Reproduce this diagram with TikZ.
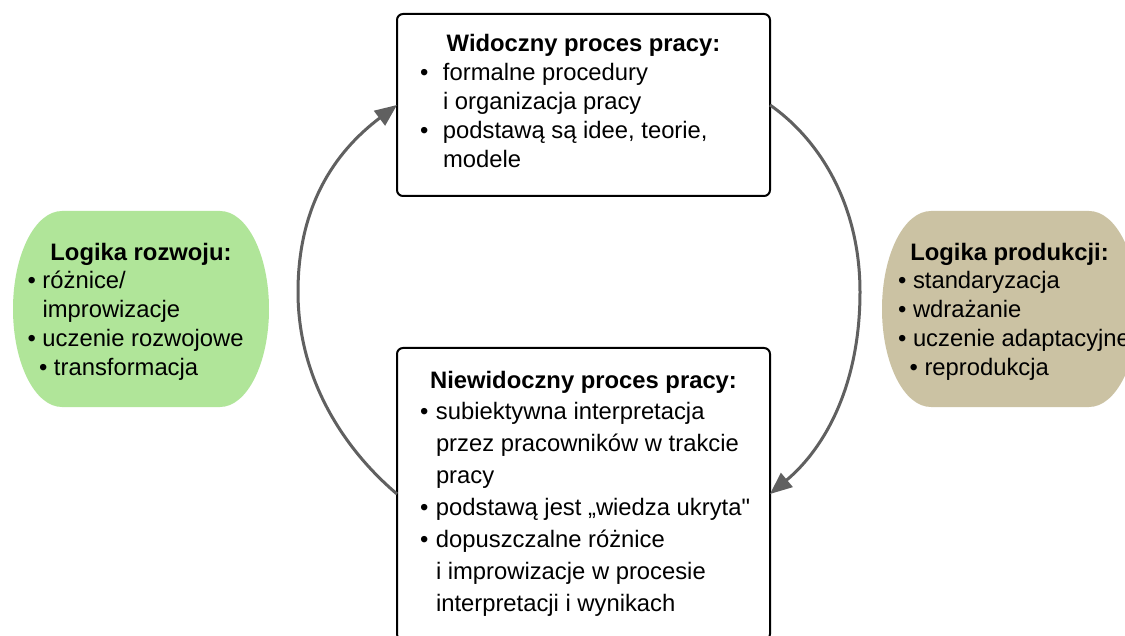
\documentclass[tikz,border=0pt]{standalone}
\usepackage{fontspec}
\setmainfont{Liberation Sans}
% same face without the TeX quote mapping, for a straight double quote
\newfontfamily\plainquote{Liberation Sans}
\usetikzlibrary{arrows.meta}

\definecolor{devgreen}{RGB}{176,229,153}
\definecolor{prodtan}{RGB}{203,194,163}
\definecolor{loopgray}{RGB}{96,96,96}

% bullet in a box of fixed width, continuation indent of the same width
\newcommand\bul[1]{\makebox[#1][l]{•}}
\newcommand\ind[1]{\hspace*{#1}}
\newcommand\firstline{\rule{0pt}{22pt}}

\tikzset{
  procbox/.style={draw=black, line width=2pt, rounded corners=6pt, fill=white,
    minimum width=373pt, inner sep=0pt, outer sep=0pt},
  body/.style={anchor=north west, inner sep=0pt, outer sep=0pt, align=left},
  loopline/.style={draw=loopgray, line width=3pt, -{Triangle[length=22pt,width=18pt]}},
}

\begin{document}
\begin{tikzpicture}[x=1pt,y=-1pt]
  \useasboundingbox (0,0) rectangle (1125,636);
  \fill[white] (0,0) rectangle (1125,636);
  \clip (0,0) rectangle (1125,636);

  % the two logics at the sides
  \fill[devgreen] (62,211) -- (220,211)
    .. controls (247.1,211) and (269,254.9) .. (269,309)
    .. controls (269,363.1) and (247.1,407) .. (220,407)
    -- (62,407)
    .. controls (34.9,407) and (13,363.1) .. (13,309)
    .. controls (13,254.9) and (34.9,211) .. (62,211) -- cycle;
  \fill[prodtan] (931,211) -- (1089,211)
    .. controls (1116.1,211) and (1138,254.9) .. (1138,309)
    .. controls (1138,363.1) and (1116.1,407) .. (1089,407)
    -- (931,407)
    .. controls (903.9,407) and (882,363.1) .. (882,309)
    .. controls (882,254.9) and (903.9,211) .. (931,211) -- cycle;

  \node[body, font=\fontsize{23.8pt}{28.75pt}\selectfont] (devtext) at (27.5,238) {%
    \firstline\makebox[227pt][c]{\bfseries Logika rozwoju:}\\
    \bul{15pt}różnice/\\
    \ind{15pt}improwizacje\\
    \bul{15pt}uczenie rozwojowe\\
    \ind{11.5pt}\bul{15pt}transformacja};

  \node[body, font=\fontsize{23.8pt}{28.75pt}\selectfont] (prodtext) at (898,238) {%
    \firstline\makebox[223pt][c]{\bfseries Logika produkcji:}\\
    \bul{15pt}standaryzacja\\
    \bul{15pt}wdrażanie\\
    \bul{15pt}uczenie adaptacyjne\\
    \ind{11.5pt}\bul{15pt}reprodukcja};

  % the visible and the invisible work process
  \node[procbox, minimum height=182pt] (vis) at (583.5,105) {};
  \node[procbox, minimum height=292pt] (inv) at (583.5,494) {};

  \node[body, font=\fontsize{23.8pt}{29pt}\selectfont] (vistext) at (420,30) {%
    \firstline\makebox[327pt][c]{\bfseries Widoczny proces pracy:}\\
    \bul{23pt}formalne procedury\\
    \ind{23pt}i organizacja pracy\\
    \bul{23pt}podstawą są idee, teorie,\\
    \ind{23pt}modele};

  \node[body, font=\fontsize{23.8pt}{31.9pt}\selectfont] (invtext) at (420,366) {%
    \firstline\makebox[327pt][c]{\bfseries Niewidoczny proces pracy:}\\
    \bul{16pt}subiektywna interpretacja\\
    \ind{16pt}przez pracowników w trakcie\\
    \ind{16pt}pracy\\
    \bul{16pt}podstawą jest „wiedza ukryta{\plainquote"}\\
    \bul{16pt}dopuszczalne różnice\\
    \ind{16pt}i improwizacje w procesie\\
    \ind{16pt}interpretacji i wynikach};

  % the loop between both processes
  \draw[loopline] (inv.west)
    .. controls (345,450) and (298,380) .. (298,292)
    .. controls (298,200) and (340,148) .. (vis.west);
  \draw[loopline] (vis.east)
    .. controls (820,140) and (860,205) .. (860,292)
    .. controls (860,385) and (825,448) .. (inv.east);
\end{tikzpicture}
\end{document}
